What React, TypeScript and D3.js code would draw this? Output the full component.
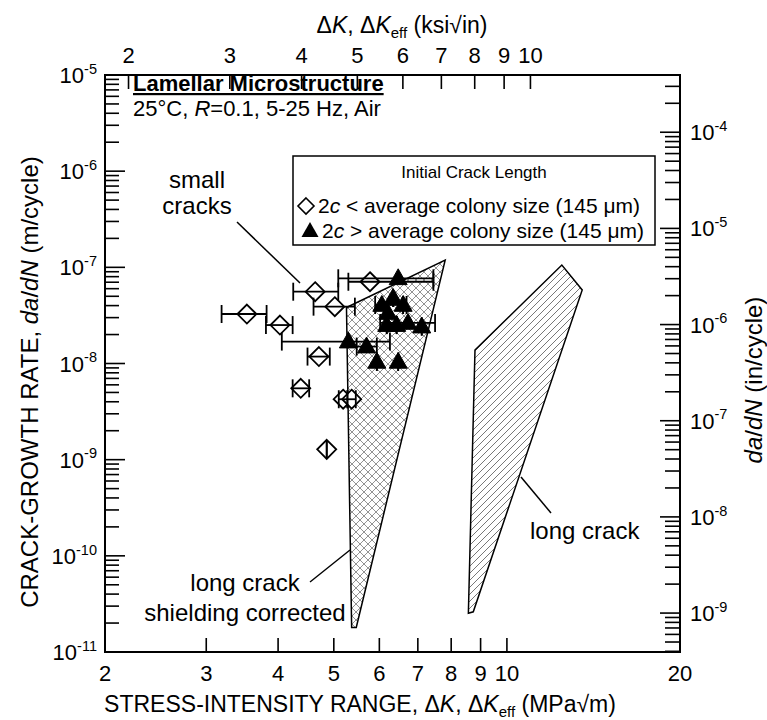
import React from "react";
import * as d3 from "d3";

const W = 767;
const H = 720;
const FRAME = { left: 105, right: 680, top: 75, bottom: 652 };
const FONT = "'Liberation Sans', Arial, Helvetica, sans-serif";

// axes
const bottomTickValues = [2, 3, 4, 5, 6, 7, 8, 9, 10, 20];
const topTickValues = [2, 3, 4, 5, 6, 7, 8, 9, 10];
const leftDecades = [-11, -10, -9, -8, -7, -6, -5];
const rightDecades = [-9, -8, -7, -6, -5, -4];
const MPA_PER_KSI = 1.0988;
const M_PER_IN = 0.0254;

// small cracks: 2c < average colony size (open diamonds)
const smallK = [3.53, 4.03, 4.71, 4.38, 5.19, 5.37, 4.86, 4.64, 5.78, 5.02];
const smallRate = [3.27e-8, 2.51e-8, 1.18e-8, 5.52e-9, 4.25e-9, 4.25e-9, 1.28e-9, 5.58e-8, 7.08e-8, 3.9e-8];
const smallKLow = [3.19, 3.81, 4.5, 4.24, 5.1, 5.28, 4.86, 4.25, 5.3, 4.61];
const smallKHigh = [3.82, 4.24, 4.92, 4.53, 5.28, 5.46, 4.86, 5.09, 7.45, 5.44];

// 2c > average colony size (filled triangles)
const largeK = [5.3, 6.47, 6.06, 6.34, 6.6, 6.21, 6.18, 6.43, 6.73, 7.11, 5.7, 5.94, 6.47];
const largeRate = [1.69e-8, 7.69e-8, 4.06e-8, 4.8e-8, 4.06e-8, 3.35e-8, 2.51e-8, 2.51e-8, 2.64e-8, 2.42e-8, 1.5e-8, 1.04e-8, 1.04e-8];
const largeKLow = [4.06, 5.09, 5.9, 6.34, 6.6, 6.21, 6.18, 6.43, 6.02, 7.11, 5.48, 5.94, 6.47];
const largeKHigh = [6.26, 7.45, 6.69, 6.34, 6.6, 6.21, 6.18, 6.43, 7.5, 7.11, 5.94, 5.94, 6.47];

// long crack, shielding corrected (cross-hatched band)
const shieldedK = [5.26, 7.81, 5.47, 5.37];
const shieldedRate = [3.82e-8, 1.19e-7, 1.8e-11, 1.8e-11];

// long crack (hatched band)
const longK = [8.8, 12.46, 13.52, 8.74, 8.57];
const longRate = [1.38e-8, 1.057e-7, 5.81e-8, 2.62e-11, 2.53e-11];

const x = d3.scaleLog().domain([2, 20]).range([FRAME.left, FRAME.right]);
const y = d3.scaleLog().domain([1e-11, 1e-5]).range([FRAME.bottom, FRAME.top]);

const polyLine = d3
  .line<[number, number]>()
  .x((d) => x(d[0]))
  .y((d) => y(d[1]))
  .curve(d3.curveLinearClosed);

function Sup({ base, exp, size }: { base: string; exp: string; size: number }) {
  return (
    <>
      {base}
      <tspan dy={-size * 0.42} fontSize={size * 0.66}>
        {exp}
      </tspan>
    </>
  );
}

function diamondPath(cx: number, cy: number, r: number) {
  return `M${cx},${cy - r}L${cx + r},${cy}L${cx},${cy + r}L${cx - r},${cy}Z`;
}
function trianglePath(cx: number, cy: number, s: number) {
  const h = s * 0.88;
  return `M${cx},${cy - h * 0.6}L${cx + s / 2},${cy + h * 0.4}L${cx - s / 2},${cy + h * 0.4}Z`;
}

export default function App() {
  const leftTicks: { v: number; major: boolean }[] = [];
  leftDecades.forEach((e) => {
    leftTicks.push({ v: Math.pow(10, e), major: true });
    if (e < -5) for (let m = 2; m <= 9; m++) leftTicks.push({ v: m * Math.pow(10, e), major: false });
  });
  const rightTicks: { v: number; major: boolean }[] = [];
  for (let e = -10; e <= -3; e++) {
    for (let m = 1; m <= 9; m++) {
      const vin = m * Math.pow(10, e);
      const vm = vin * M_PER_IN;
      if (vm >= 1e-11 && vm <= 1e-5) rightTicks.push({ v: vm, major: m === 1 });
    }
  }

  const shieldPts = shieldedK.map((k, i) => [k, shieldedRate[i]] as [number, number]);
  const longPts = longK.map((k, i) => [k, longRate[i]] as [number, number]);

  const cap = 9;

  return (
    <svg width={W} height={H} style={{ position: "absolute", left: 0, top: 0 }} fontFamily={FONT}>
      <defs>
        <pattern id="cross" patternUnits="userSpaceOnUse" width={8} height={8}>
          <path d="M0,0L8,8M8,0L0,8" stroke="#777" strokeWidth={0.8} />
        </pattern>
        <pattern id="diag" patternUnits="userSpaceOnUse" width={7} height={7}>
          <path d="M0,7L7,0M-1,1L1,-1M6,8L8,6" stroke="#555" strokeWidth={0.8} />
        </pattern>
      </defs>
      <rect x={0} y={0} width={W} height={H} fill="white" />

      {/* bands */}
      <path d={polyLine(shieldPts) || ""} fill="url(#cross)" stroke="black" strokeWidth={1.5} />
      <path d={polyLine(longPts) || ""} fill="url(#diag)" stroke="black" strokeWidth={1.5} />

      {/* small crack diamonds */}
      {smallK.map((k, i) => (
        <path key={"d" + i} d={diamondPath(x(k), y(smallRate[i]), 9.5)} fill="white" stroke="black" strokeWidth={1.8} />
      ))}
      {smallK.map((k, i) => {
        const cy = y(smallRate[i]);
        const x0 = x(smallKLow[i]);
        const x1 = x(smallKHigh[i]);
        return (
          <g key={"de" + i} stroke="black" strokeWidth={1.8}>
            <line x1={x0} x2={x1} y1={cy} y2={cy} />
            <line x1={x0} x2={x0} y1={cy - cap} y2={cy + cap} />
            <line x1={x1} x2={x1} y1={cy - cap} y2={cy + cap} />
          </g>
        );
      })}

      {/* large crack triangles */}
      {largeK.map((k, i) => {
        const cy = y(largeRate[i]);
        const x0 = x(largeKLow[i]);
        const x1 = x(largeKHigh[i]);
        return (
          <g key={"te" + i} stroke="black" strokeWidth={1.8}>
            <line x1={x0} x2={x1} y1={cy} y2={cy} />
            <line x1={x0} x2={x0} y1={cy - cap} y2={cy + cap} />
            <line x1={x1} x2={x1} y1={cy - cap} y2={cy + cap} />
          </g>
        );
      })}
      {largeK.map((k, i) => (
        <path key={"t" + i} d={trianglePath(x(k), y(largeRate[i]), 18)} fill="black" stroke="black" strokeWidth={1} />
      ))}

      {/* frame */}
      <rect
        x={FRAME.left}
        y={FRAME.top}
        width={FRAME.right - FRAME.left}
        height={FRAME.bottom - FRAME.top}
        fill="none"
        stroke="black"
        strokeWidth={2}
      />

      {/* left axis */}
      {leftTicks.map((t, i) => (
        <line key={"lt" + i} x1={FRAME.left} x2={FRAME.left + (t.major ? 20 : 14)} y1={y(t.v)} y2={y(t.v)} stroke="black" strokeWidth={1.6} />
      ))}
      {leftDecades.map((e) => (
        <text key={"ll" + e} x={97} y={y(Math.pow(10, e)) + 8} textAnchor="end" fontSize={22}>
          <Sup base="10" exp={String(e)} size={22} />
        </text>
      ))}

      {/* right axis */}
      {rightTicks.map((t, i) => (
        <line key={"rt" + i} x1={FRAME.right} x2={FRAME.right - (t.major ? 20 : 15)} y1={y(t.v)} y2={y(t.v)} stroke="black" strokeWidth={1.6} />
      ))}
      {rightDecades.map((e) => (
        <text key={"rl" + e} x={690} y={y(Math.pow(10, e) * M_PER_IN) + 8} textAnchor="start" fontSize={22}>
          <Sup base="10" exp={String(e)} size={22} />
        </text>
      ))}

      {/* bottom axis */}
      {bottomTickValues.map((v) => (
        <line key={"bt" + v} x1={x(v)} x2={x(v)} y1={FRAME.bottom} y2={FRAME.bottom - 14} stroke="black" strokeWidth={1.6} />
      ))}
      {bottomTickValues.map((v) => (
        <text key={"bl" + v} x={x(v)} y={681} textAnchor="middle" fontSize={22}>
          {String(v)}
        </text>
      ))}

      {/* top axis */}
      {topTickValues.map((v) => (
        <line key={"tt" + v} x1={x(v * MPA_PER_KSI)} x2={x(v * MPA_PER_KSI)} y1={FRAME.top} y2={FRAME.top + 14} stroke="black" strokeWidth={1.6} />
      ))}
      {topTickValues.map((v) => (
        <text key={"tl" + v} x={x(v * MPA_PER_KSI)} y={63} textAnchor="middle" fontSize={22}>
          {String(v)}
        </text>
      ))}

      {/* axis titles */}
      <text x={360} y={712} textAnchor="middle" fontSize={23}>
        STRESS-INTENSITY RANGE, Δ<tspan fontStyle="italic">K</tspan>, Δ<tspan fontStyle="italic">K</tspan>
        <tspan dy={5} fontSize={15}>eff</tspan>
        <tspan dy={-5}> (MPa√m)</tspan>
      </text>
      <text x={402} y={33} textAnchor="middle" fontSize={23}>
        Δ<tspan fontStyle="italic">K</tspan>, Δ<tspan fontStyle="italic">K</tspan>
        <tspan dy={5} fontSize={15}>eff</tspan>
        <tspan dy={-5}> (ksi√in)</tspan>
      </text>
      <text transform="translate(38,382) rotate(-90)" textAnchor="middle" fontSize={24}>
        CRACK-GROWTH RATE, <tspan fontStyle="italic">da</tspan>/<tspan fontStyle="italic">dN</tspan> (m/cycle)
      </text>
      <text transform="translate(762,380) rotate(-90)" textAnchor="middle" fontSize={24}>
        <tspan fontStyle="italic">da</tspan>/<tspan fontStyle="italic">dN</tspan> (in/cycle)
      </text>

      {/* header text */}
      <text x={133} y={91} fontSize={22} fontWeight="bold" style={{ textDecoration: "underline" }}>
        Lamellar Microstructure
      </text>
      <text x={133} y={116} fontSize={22}>
        25°C, <tspan fontStyle="italic">R</tspan>=0.1, 5-25 Hz, Air
      </text>

      {/* legend */}
      <rect x={293} y={156} width={362} height={89} fill="white" stroke="black" strokeWidth={1.5} />
      <text x={474} y={178} textAnchor="middle" fontSize={17}>
        Initial Crack Length
      </text>
      <path d={diamondPath(306, 206, 8)} fill="white" stroke="black" strokeWidth={1.6} />
      <text x={318} y={213} fontSize={21}>
        2<tspan fontStyle="italic">c</tspan> &lt; average colony size (145 μm)
      </text>
      <path d={trianglePath(310, 231, 17)} fill="black" />
      <text x={322} y={238} fontSize={21}>
        2<tspan fontStyle="italic">c</tspan> &gt; average colony size (145 μm)
      </text>

      {/* annotations */}
      <text x={197} y={188} textAnchor="middle" fontSize={24}>
        small
      </text>
      <text x={197} y={214} textAnchor="middle" fontSize={24}>
        cracks
      </text>
      <line x1={237} y1={222} x2={300} y2={283} stroke="black" strokeWidth={1.5} />

      <text x={530} y={539} fontSize={24}>
        long crack
      </text>
      <line x1={551} y1={513} x2={521} y2={477} stroke="black" strokeWidth={1.5} />

      <text x={245} y={591} textAnchor="middle" fontSize={24}>
        long crack
      </text>
      <text x={245} y={621} textAnchor="middle" fontSize={24}>
        shielding corrected
      </text>
      <line x1={310} y1={582} x2={350} y2={550} stroke="black" strokeWidth={1.5} />
    </svg>
  );
}
